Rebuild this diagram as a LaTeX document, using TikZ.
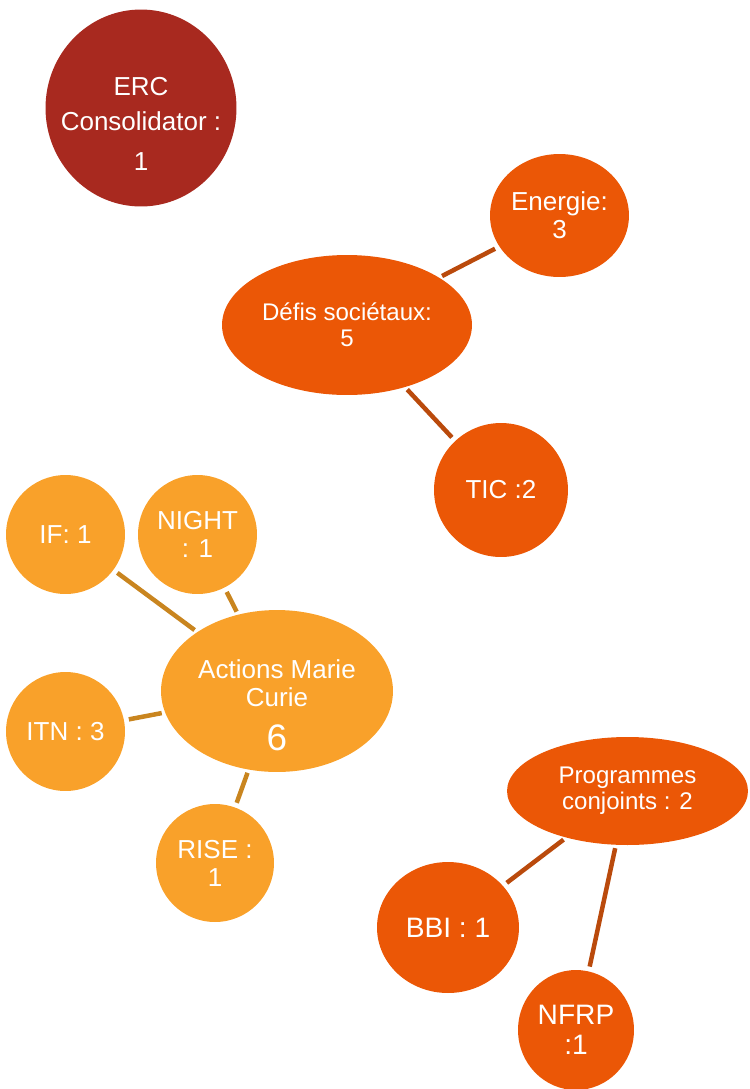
\documentclass[tikz,border=0pt]{standalone}
\usepackage{fontspec}
\setmainfont{Liberation Sans}
\usetikzlibrary{shapes.geometric}
\definecolor{ercred}{HTML}{A8291F}
\definecolor{hotorange}{HTML}{EB5706}
\definecolor{warmorange}{HTML}{F9A12A}
\definecolor{hotline}{HTML}{BA4A0C}
\definecolor{warmline}{HTML}{C9851F}

\begin{document}
\begin{tikzpicture}[
  x=0.02cm, y=-0.02cm,
  bubbletext/.style={text=white,align=center,inner sep=0pt,
                     font=\fontsize{14.8}{16}\selectfont},
  bubble/.style={ellipse,bubbletext,outer sep=0pt},
  erc/.style={bubble,fill=ercred},
  hot/.style={bubble,fill=hotorange},
  warm/.style={bubble,fill=warmorange},
  small/.style={font=\fontsize{13.7}{14.8}\selectfont},
  large/.style={font=\fontsize{16}{17}\selectfont},
  link/.style={line width=0.09cm,shorten <=0.1cm,shorten >=0.07cm},
  hotlink/.style={link,draw=hotline},
  warmlink/.style={link,draw=warmline},
]
\useasboundingbox (0,0) rectangle (750,1089);

\node[erc,minimum width=3.82cm,minimum height=3.94cm,
  label={[bubbletext,font=\fontsize{14.8}{20}\selectfont,name=erctext,yshift=-0.32cm]center:{ERC\\Consolidator :\\[3pt]1}}]
  (erc) at (141,108) {};

% societal challenges
\node[hot,small,minimum width=5.0cm,minimum height=2.8cm] (defis) at (347,325)
  {D\'efis soci\'etaux:\\5};
\node[hot,minimum width=2.78cm,minimum height=2.46cm] (energie) at (559.5,215.5)
  {Energie:\\3};
\node[hot,minimum width=2.68cm,minimum height=2.68cm] (tic) at (501,490) {TIC :2};

% Marie Curie actions
\node[warm,minimum width=4.64cm,minimum height=3.24cm,
  label={[bubbletext,name=amctext,yshift=-0.28cm]center:{Actions Marie\\Curie\\[9pt]{\fontsize{21}{22}\selectfont 6}}}]
  (amc) at (277,691) {};
\node[warm,minimum size=2.38cm] (if)    at (65.5,534.5)  {IF: 1};
\node[warm,minimum size=2.38cm] (night) at (197.5,534.5) {NIGHT\\: 1};
\node[warm,minimum size=2.38cm] (itn)   at (65.5,731.5)  {ITN : 3};
\node[warm,minimum size=2.36cm] (rise)  at (215,863)     {RISE :\\1};

% joint programmes
\node[hot,small,minimum width=4.82cm,minimum height=2.16cm] (pc) at (627.5,791)
  {Programmes\\conjoints : 2};
\node[hot,large,minimum width=2.84cm,minimum height=2.62cm] (bbi) at (448,927.5)
  {BBI : 1};
\node[hot,large,minimum width=2.32cm,minimum height=2.40cm] (nfrp) at (576,1030)
  {NFRP\\:1};

\draw[hotlink] (energie) -- (defis);
\draw[hotlink] (tic) -- (defis);
\draw[warmlink] (if) -- (amc);
\draw[warmlink] (night) -- (amc);
\draw[warmlink] (itn) -- (amc);
\draw[warmlink] (rise) -- (amc);
\draw[hotlink] (bbi) -- (pc);
\draw[hotlink] (nfrp) -- (pc);

\end{tikzpicture}
\end{document}
